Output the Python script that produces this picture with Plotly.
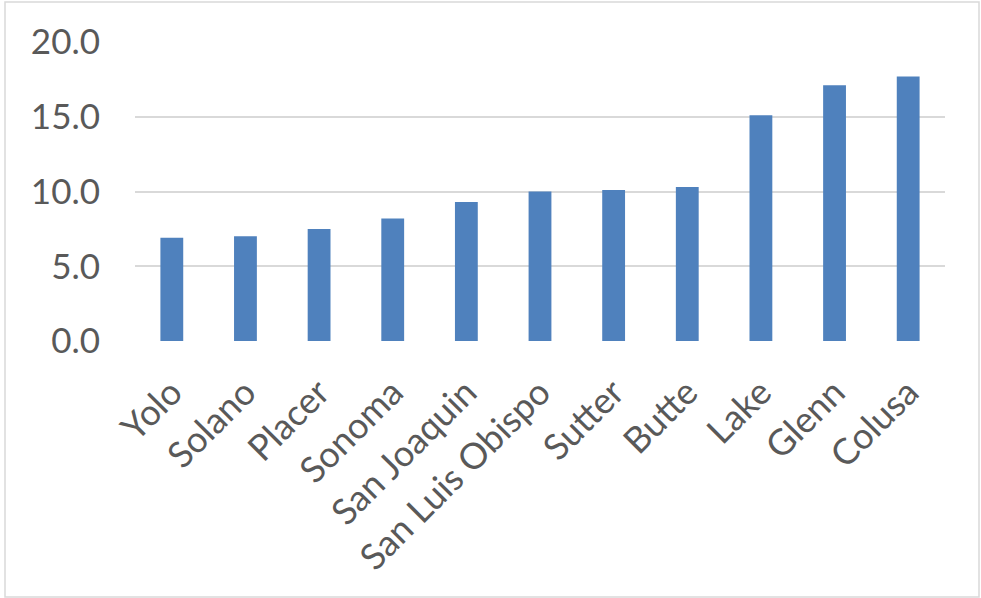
import plotly.graph_objects as go

counties = ["Yolo", "Solano", "Placer", "Sonoma", "San Joaquin", "San Luis Obispo",
            "Sutter", "Butte", "Lake", "Glenn", "Colusa"]
values = [6.9, 7.0, 7.5, 8.2, 9.3, 10.0, 10.1, 10.3, 15.1, 17.1, 17.7]
y_ticks = [0, 5, 10, 15, 20]
y_tick_text = ["0.0", "5.0", "10.0", "15.0", "20.0"]

W, H = 981, 598
ml, mr, mt, mb = 135, 36, 42, 257

fig = go.Figure(go.Bar(x=counties, y=values, marker_color="#4f81bd",
                       marker_line=dict(color="#4f81bd", width=0)))

xfont = dict(family="Lato, Carlito, sans-serif", size=36, color="#595959")
yfont = dict(family="Lato, Carlito, sans-serif", size=35, color="#595959")

fig.update_layout(
    width=W, height=H,
    margin=dict(l=ml, r=mr, t=mt, b=mb, autoexpand=False),
    paper_bgcolor="white", plot_bgcolor="white",
    bargap=0.69, showlegend=False,
    font=yfont,
    xaxis=dict(tickangle=-45, tickfont=xfont, showgrid=False, zeroline=False,
               showline=False, ticks="", ticklabelstandoff=22),
    yaxis=dict(range=[0, 20], tickvals=y_ticks, ticktext=y_tick_text, tickfont=yfont,
               showgrid=True, gridcolor="#d9d9d9", gridwidth=1.5, zeroline=False,
               showline=False, ticks="", ticklabelstandoff=34),
)

# outer chart border (paper coords)
pw = W - ml - mr
ph = H - mt - mb
x0 = (5 - ml) / pw
x1 = (979 - ml) / pw
y0 = (H - 597 - mb) / ph
y1 = (H - 2 - mb) / ph
fig.add_shape(type="rect", xref="paper", yref="paper", x0=x0, x1=x1, y0=y0, y1=y1,
              line=dict(color="#d9d9d9", width=1.5), layer="below")

fig.write_html("out.html")
